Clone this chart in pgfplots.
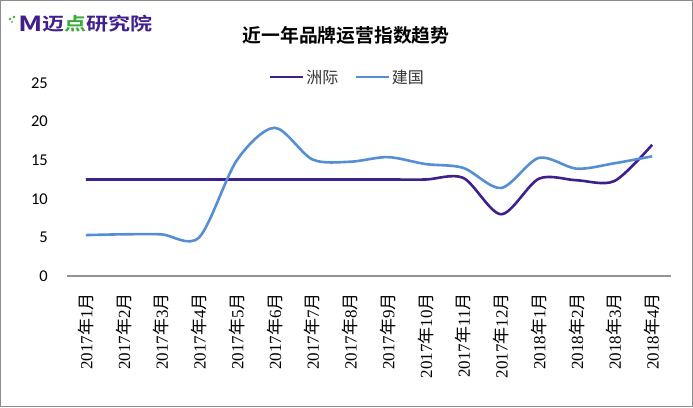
\documentclass[border=0pt]{standalone}
\usepackage{pgfplots}
\pgfplotsset{compat=1.18}
\usepackage{fontspec}
\setmainfont{Liberation Serif}
\newfontfamily\cjk{Noto Sans CJK SC}
\newfontfamily\cjkb{Noto Sans CJK SC Bold}
\newfontfamily\carl{Carlito}
\definecolor{cpurple}{HTML}{3F1F8C}
\definecolor{cblue}{HTML}{558ED5}
\definecolor{cgreen}{HTML}{3AAA35}
\newcommand\ym[2]{#1{\cjk 年}#2{\cjk 月}}
\begin{document}
\begin{tikzpicture}
\draw[color=gray!90, line width=1.2pt] (0.6pt,0.6pt) rectangle (692.4pt,406.4pt);
% logo
\node[anchor=west, inner sep=0] at (42pt,383pt) {\fontsize{21}{21}\selectfont\cjkb\color{cpurple}\scalebox{1.05}[0.85]{迈{\color{cgreen}点}研究院}};
\node[anchor=west, inner sep=0] at (18pt,383pt) {\fontsize{26}{26}\selectfont\cjkb\color{cpurple}\scalebox{1.1}[0.8]{M}};
\fill[cgreen] (10pt,388pt) circle (1.3pt) (14pt,390pt) circle (1.3pt) (12pt,385pt) circle (1pt);
% title
\node at (346pt,372pt) {\fontsize{18.8}{19}\selectfont\cjkb 近一年品牌运营指数趋势};
\begin{axis}[
  at={(67pt,131pt)}, anchor=south west,
  width=604pt, height=193pt, scale only axis,
  xmin=-0.5, xmax=15.5, ymin=0, ymax=25,
  axis x line*=bottom, axis y line=none,
  x axis line style={color=gray!85, line width=1.2pt, -},
  xtick={0,...,15},
  xticklabels={\ym{2017}{1},\ym{2017}{2},\ym{2017}{3},\ym{2017}{4},\ym{2017}{5},\ym{2017}{6},\ym{2017}{7},\ym{2017}{8},\ym{2017}{9},\ym{2017}{10},\ym{2017}{11},\ym{2017}{12},\ym{2018}{1},\ym{2018}{2},\ym{2018}{3},\ym{2018}{4}},
  xticklabel style={rotate=90, anchor=east, inner sep=0pt, font=\fontsize{17}{17}\selectfont},
  xticklabel shift=17pt,
  major tick length=0pt,
  clip=false,
  legend style={draw=none, fill=none, at={(0.464,1.03)}, anchor=center, legend columns=2,
    font=\fontsize{16}{16}\selectfont\cjk\color{black!80}, /tikz/every even column/.append style={column sep=14pt}},
  legend image code/.code={\draw[#1, line width=2.5pt] (0pt,0pt) -- (33pt,0pt);},
]
\addplot[cpurple, line width=2.6pt, smooth, tension=0.5] coordinates {
(0,12.5) (1,12.5) (2,12.5) (3,12.5) (4,12.5) (5,12.5) (6,12.5) (7,12.5) (8,12.5) (9,12.5) (10,12.7) (11,8.0) (12,12.6) (13,12.4) (14,12.3) (15,17.0)};
\addlegendentry{洲际}
\addplot[cblue, line width=2.6pt, smooth, tension=0.5] coordinates {
(0,5.3) (1,5.4) (2,5.4) (3,5.0) (4,15.0) (5,19.2) (6,15.1) (7,14.8) (8,15.4) (9,14.5) (10,14.0) (11,11.4) (12,15.3) (13,13.9) (14,14.6) (15,15.5)};
\addlegendentry{建国}
\end{axis}
% y tick labels
\foreach \v in {0,5,10,15,20,25} {
  \node[anchor=east, inner sep=0, font=\fontsize{16.5}{16.5}\selectfont\carl] at (48pt,131pt+\v*7.72pt) {\v};
}
\end{tikzpicture}
\end{document}
